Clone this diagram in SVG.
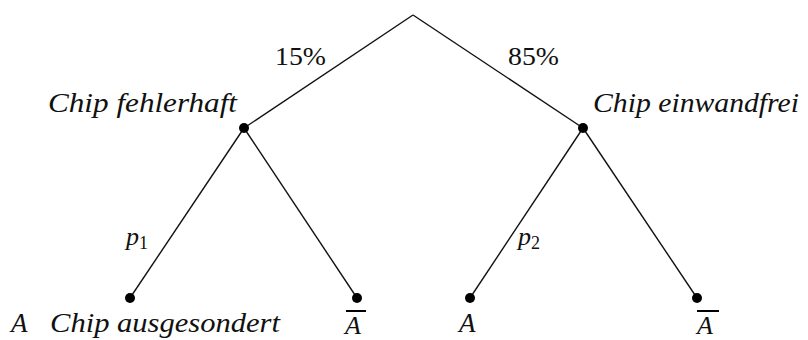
<svg xmlns="http://www.w3.org/2000/svg" width="808" height="340" viewBox="0 0 808 340">
<style>
.e{stroke:#111;stroke-width:1.4;fill:none}
.d{fill:#000}
.bar{stroke:#000;stroke-width:2}
.t{font-family:'Liberation Serif','DejaVu Serif',serif;fill:#111}
</style>
<rect width="808" height="340" fill="#fff"/>
<g id="connectors">
<line class="e" x1="413" y1="15" x2="244" y2="128"/>
<line class="e" x1="413" y1="15" x2="583" y2="128"/>
<line class="e" x1="244" y1="128" x2="130" y2="298"/>
<line class="e" x1="244" y1="128" x2="357" y2="298"/>
<line class="e" x1="583" y1="128" x2="470" y2="298"/>
<line class="e" x1="583" y1="128" x2="697" y2="298"/>
<g class="t" font-size="26">
<text x="275" y="65" textLength="51" lengthAdjust="spacingAndGlyphs">15%</text>
<text x="508" y="65" textLength="51" lengthAdjust="spacingAndGlyphs">85%</text>
<text font-style="italic" x="126" y="245">p<tspan font-style="normal" font-size="18" dy="4">1</tspan></text>
<text font-style="italic" x="518" y="245">p<tspan font-style="normal" font-size="18" dy="4">2</tspan></text>
</g>
</g>
<g id="root"></g>
<g class="t" font-size="27" font-style="italic">
<g id="fehlerhaft">
<circle class="d" cx="244" cy="128" r="5"/>
<text x="48" y="112" textLength="189" lengthAdjust="spacingAndGlyphs">Chip fehlerhaft</text>
</g>
<g id="einwandfrei">
<circle class="d" cx="583" cy="128" r="5"/>
<text x="593" y="112" textLength="206" lengthAdjust="spacingAndGlyphs">Chip einwandfrei</text>
</g>
<g id="leaf1">
<circle class="d" cx="130" cy="298" r="5"/>
<text x="11" y="332">A</text>
<text x="50" y="332" textLength="230" lengthAdjust="spacingAndGlyphs">Chip ausgesondert</text>
</g>
<g id="leaf2">
<circle class="d" cx="357" cy="298" r="5"/>
<line class="bar" x1="346" y1="311" x2="366" y2="311"/>
<text x="345" y="334" font-size="26">A</text>
</g>
<g id="leaf3">
<circle class="d" cx="470" cy="298" r="5"/>
<text x="459" y="332">A</text>
</g>
<g id="leaf4">
<circle class="d" cx="697" cy="298" r="5"/>
<line class="bar" x1="697" y1="311" x2="719" y2="311"/>
<text x="697" y="334" font-size="26">A</text>
</g>
</g>
</svg>
